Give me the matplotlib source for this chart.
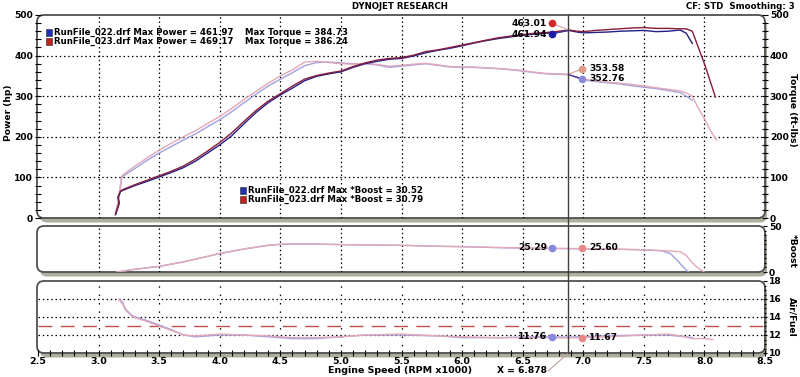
import numpy as np
import matplotlib
matplotlib.use("Agg")
import matplotlib.pyplot as plt
from matplotlib.patches import FancyBboxPatch, Rectangle
from matplotlib.lines import Line2D
from matplotlib.transforms import blended_transform_factory
from matplotlib.ticker import MultipleLocator

# ---- data ----
pwr_rpm_022 = [3.14, 3.17, 3.16, 3.18, 3.20, 3.30, 3.40, 3.50, 3.60, 3.70, 3.80, 3.90, 4.00,
               4.10, 4.20, 4.30, 4.40, 4.50, 4.60, 4.70, 4.80, 4.90, 5.00, 5.10, 5.20, 5.30,
               5.40, 5.50, 5.60, 5.70, 5.80, 5.90, 6.00, 6.10, 6.20, 6.30, 6.40, 6.50, 6.60,
               6.70, 6.80, 6.88, 6.95, 7.00, 7.10, 7.20, 7.30, 7.40, 7.50, 7.60, 7.70, 7.80,
               7.85, 7.90]
pwr_022 = [8, 35, 50, 65, 68, 80, 90, 101, 112, 124, 140, 160, 180,
           203, 232, 260, 284, 303, 320, 338, 349, 355, 360, 371, 380, 386,
           391, 393, 399, 407, 413, 418, 424, 431, 437, 442, 446, 450, 453,
           455, 458, 462, 458, 456, 457, 458, 460, 461, 462, 459, 460, 463,
           455, 430]
pwr_rpm_023 = [3.14, 3.17, 3.16, 3.18, 3.20, 3.30, 3.40, 3.50, 3.60, 3.70, 3.80, 3.90, 4.00,
               4.10, 4.20, 4.30, 4.40, 4.50, 4.60, 4.70, 4.80, 4.90, 5.00, 5.10, 5.20, 5.30,
               5.40, 5.50, 5.60, 5.70, 5.80, 5.90, 6.00, 6.10, 6.20, 6.30, 6.40, 6.50, 6.60,
               6.70, 6.80, 6.88, 6.95, 7.00, 7.10, 7.20, 7.30, 7.40, 7.50, 7.60, 7.70, 7.80,
               7.85, 7.90, 7.95, 8.00, 8.05, 8.09]
pwr_023 = [10, 38, 52, 66, 70, 82, 93, 104, 115, 128, 145, 165, 186,
           210, 238, 265, 288, 306, 325, 342, 351, 357, 362, 373, 382, 389,
           393, 395, 401, 410, 414, 420, 426, 432, 438, 444, 448, 452, 455,
           457, 460, 463, 460, 459, 462, 464, 466, 468, 469, 467, 467, 466,
           466, 460, 420, 380, 335, 298]

trq_rpm_022 = [3.14, 3.17, 3.18, 3.19, 3.20, 3.30, 3.40, 3.50, 3.60, 3.70, 3.80, 3.90, 4.00,
               4.10, 4.20, 4.30, 4.40, 4.50, 4.60, 4.70, 4.80, 4.90, 5.00, 5.10, 5.20, 5.30,
               5.40, 5.50, 5.60, 5.70, 5.80, 5.90, 6.00, 6.10, 6.20, 6.30, 6.40, 6.50, 6.60,
               6.70, 6.80, 6.88, 6.95, 7.00, 7.10, 7.20, 7.30, 7.40, 7.50, 7.60, 7.70, 7.80,
               7.85, 7.90]
trq_022 = [10, 50, 75, 98, 103, 122, 142, 160, 176, 192, 207, 225, 242,
           262, 284, 305, 325, 342, 358, 375, 383, 384, 382, 380, 380, 377,
           371, 374, 377, 380, 376, 372, 371, 371, 369, 368, 365, 362, 358,
           355, 354, 353, 345, 340, 336, 333, 330, 326, 322, 319, 314, 309,
           300, 290]
trq_rpm_023 = [3.14, 3.17, 3.18, 3.19, 3.20, 3.30, 3.40, 3.50, 3.60, 3.70, 3.80, 3.90, 4.00,
               4.10, 4.20, 4.30, 4.40, 4.50, 4.60, 4.70, 4.80, 4.90, 5.00, 5.10, 5.20, 5.30,
               5.40, 5.50, 5.60, 5.70, 5.80, 5.90, 6.00, 6.10, 6.20, 6.30, 6.40, 6.50, 6.60,
               6.70, 6.80, 6.88, 6.95, 7.00, 7.10, 7.20, 7.30, 7.40, 7.50, 7.60, 7.70, 7.80,
               7.85, 7.90, 7.95, 8.00, 8.05, 8.10]
trq_023 = [12, 55, 80, 102, 106, 128, 148, 167, 184, 200, 215, 233, 250,
           270, 292, 312, 332, 350, 365, 384, 386, 383, 380, 379, 381, 378,
           374, 376, 379, 381, 377, 373, 372, 372, 370, 368, 366, 363, 359,
           356, 355, 354, 347, 342, 338, 335, 332, 329, 325, 321, 317, 313,
           308, 300, 270, 245, 215, 192]

boost_rpm_022 = [3.15, 3.30, 3.50, 3.70, 3.90, 4.00, 4.20, 4.40, 4.50, 4.70, 4.90, 5.20, 5.50,
                 5.80, 6.00, 6.30, 6.60, 6.88, 7.20, 7.50, 7.65, 7.72, 7.78, 7.85, 7.87]
boost_022 = [0, 3, 6, 11, 17, 20, 25, 29, 30, 30.5, 30, 29.3, 29,
             28, 27.5, 26.5, 25.8, 25.3, 25, 24, 23, 20, 12, 2, 0]
boost_rpm_023 = [3.15, 3.30, 3.50, 3.70, 3.90, 4.00, 4.20, 4.40, 4.50, 4.70, 4.90, 5.20, 5.50,
                 5.80, 6.00, 6.30, 6.60, 6.88, 7.20, 7.50, 7.70, 7.80, 7.85, 7.90, 7.95, 8.00]
boost_023 = [0, 3, 6.2, 11, 17, 20.3, 25, 29, 30.2, 30.8, 30, 29.4, 29,
             28, 27.6, 26.6, 26, 25.6, 25, 24.2, 23, 22, 18, 10, 4, 0]

afr_rpm_022 = [3.17, 3.20, 3.22, 3.28, 3.40, 3.50, 3.60, 3.70, 3.80, 3.90, 4.00, 4.20, 4.40,
               4.60, 4.80, 5.00, 5.20, 5.50, 5.80, 6.00, 6.30, 6.60, 6.88, 7.20, 7.50, 7.70,
               7.85, 7.90]
afr_022 = [16.0, 15.6, 14.9, 14.1, 13.6, 13.1, 12.6, 12.0, 11.8, 11.9, 12.0, 12.0, 11.8,
           11.6, 11.6, 11.8, 12.0, 12.0, 11.9, 11.7, 11.7, 11.8, 11.76, 11.9, 12.0, 12.0,
           11.8, 11.7]
afr_rpm_023 = [3.17, 3.20, 3.22, 3.28, 3.40, 3.50, 3.60, 3.70, 3.80, 3.90, 4.00, 4.20, 4.40,
               4.60, 4.80, 5.00, 5.20, 5.50, 5.80, 6.00, 6.30, 6.60, 6.88, 7.20, 7.50, 7.70,
               7.80, 7.90, 8.00, 8.07]
afr_023 = [15.9, 15.4, 14.8, 14.0, 13.5, 13.0, 12.5, 12.0, 11.9, 12.0, 12.1, 12.0, 11.9,
           11.7, 11.7, 11.8, 12.0, 12.1, 11.9, 11.8, 11.7, 11.7, 11.67, 11.8, 12.0, 12.1,
           11.9, 11.6, 11.6, 11.5]

cursor_rpm = 6.878
afr_target = 13
legend_top = [("RunFile_022.drf Max Power = 461.97", "Max Torque = 384.73"),
              ("RunFile_023.drf Max Power = 469.17", "Max Torque = 386.24")]
legend_boost = ["RunFile_022.drf Max *Boost = 30.52",
                "RunFile_023.drf Max *Boost = 30.79"]

C_PWR_B, C_PWR_R = "#24208a", "#861c3a"
C_LT_B, C_LT_R = "#a0a0e0", "#e4a8b8"
GRID = dict(color="black", linestyle=(0, (1.2, 2.2)), linewidth=0.9)
FS = 6.2

fig = plt.figure(figsize=(8, 3.77), dpi=100)
W, H = 800, 377


def px_axes(x0, y0, x1, y1):
    return fig.add_axes([x0 / W, 1 - y1 / H, (x1 - x0) / W, (y1 - y0) / H])


ax1 = px_axes(38, 15, 765, 218)
ax2 = px_axes(38, 226, 765, 272)
ax3 = px_axes(38, 281, 765, 353)


def frame(ax):
    # rounded panel outline with the grey drop shadow
    p = ax.get_position()
    x0, y0, w, h = p.x0 * 8, p.y0 * 3.77, p.width * 8, p.height * 3.77
    sh = FancyBboxPatch((x0 + 0.02, y0 - 0.045), w, h, boxstyle="round,pad=0,rounding_size=0.07",
                        transform=fig.dpi_scale_trans, facecolor="#aeae9e", edgecolor="none", zorder=-3)
    fr = FancyBboxPatch((x0 - 0.01, y0), w + 0.01, h, boxstyle="round,pad=0,rounding_size=0.07",
                        transform=fig.dpi_scale_trans, facecolor="white", edgecolor="#505050",
                        linewidth=1.3, zorder=-2)
    fig.patches.extend([sh, fr])
    ax.patch.set_visible(False)
    for s in ax.spines.values():
        s.set_visible(False)


for ax in (ax1, ax2, ax3):
    frame(ax)
    ax.set_xlim(2.5, 8.5)
for xv in np.arange(3.0, 8.01, 0.5):
    ax1.axvline(xv, **GRID, zorder=0)
    ax2.axvline(xv, **GRID, zorder=0)
    ax3.axvline(xv, color="black", linestyle=(1, (1.2, 5.5)), linewidth=0.9, zorder=0)

# power / torque
ax1.set_ylim(0, 500)
for yv in (100, 200, 300, 400):
    ax1.axhline(yv, **GRID, zorder=0)
ax1.plot(trq_rpm_022, trq_022, color=C_LT_B, lw=1.0)
ax1.plot(trq_rpm_023, trq_023, color=C_LT_R, lw=1.0)
ax1.plot(pwr_rpm_022, pwr_022, color=C_PWR_B, lw=1.0)
ax1.plot(pwr_rpm_023, pwr_023, color=C_PWR_R, lw=1.0)

# cursor call-outs
ax1.plot([6.74, cursor_rpm], [480, 463], color="#d0a0b0", lw=0.8)
ax1.plot([6.74, cursor_rpm], [453, 462], color="#4040a0", lw=0.8)
ax1.plot([6.99, cursor_rpm], [367, 354], color="#e0a090", lw=0.8)
ax1.plot([6.99, cursor_rpm], [343, 353], color="#3030a0", lw=0.8)
ax1.plot(6.74, 480, "o", color="#d42828", ms=4.5)
ax1.plot(6.74, 453, "o", color="#1c1ca8", ms=4.5)
ax1.plot(6.99, 367, "o", color="#e09a88", ms=4.5)
ax1.plot(6.99, 343, "o", color="#8a8ad8", ms=4.5)
ax1.text(6.70, 480, "463.01", ha="right", va="center", fontsize=FS + 0.4, fontweight="bold")
ax1.text(6.70, 453, "461.94", ha="right", va="center", fontsize=FS + 0.4, fontweight="bold")
ax1.text(7.05, 367, "353.58", ha="left", va="center", fontsize=FS + 0.4, fontweight="bold")
ax1.text(7.05, 343, "352.76", ha="left", va="center", fontsize=FS + 0.4, fontweight="bold")

for i, (a, b) in enumerate(legend_top):
    yy = 0.915 - i * 0.045
    ax1.add_patch(Rectangle((0.011, yy - 0.017), 0.008, 0.034, transform=ax1.transAxes,
                            facecolor=["#2030b0", "#c02020"][i], edgecolor="#404040", lw=0.5))
    ax1.text(0.022, yy, a, transform=ax1.transAxes, va="center", fontsize=FS, fontweight="bold")
    ax1.text(0.285, yy, b, transform=ax1.transAxes, va="center", fontsize=FS, fontweight="bold")
for i, s in enumerate(legend_boost):
    yy = 0.135 - i * 0.045
    ax1.add_patch(Rectangle((0.278, yy - 0.017), 0.008, 0.034, transform=ax1.transAxes,
                            facecolor=["#2030b0", "#c02020"][i], edgecolor="#404040", lw=0.5))
    ax1.text(0.289, yy, s, transform=ax1.transAxes, va="center", fontsize=FS, fontweight="bold")

ax1.yaxis.set_major_locator(MultipleLocator(100))
ax1.yaxis.set_minor_locator(MultipleLocator(20))
ax1.tick_params(axis="y", which="both", left=True, right=True, labelleft=True, labelright=True,
                direction="inout", labelsize=FS + 0.4, width=0.8, pad=1)
ax1.tick_params(axis="y", which="major", length=5)
ax1.tick_params(axis="y", which="minor", length=4)
ax1.tick_params(axis="x", bottom=False, labelbottom=False)
fig.text(0.011, 0.7, "Power (hp)", rotation=90, ha="center", va="center",
         fontsize=FS + 0.4, fontweight="bold")

# boost
ax2.set_ylim(0, 50)
ax2.plot(boost_rpm_022, boost_022, color=C_LT_B, lw=1.0)
ax2.plot(boost_rpm_023, boost_023, color=C_LT_R, lw=1.0)
ax2.plot(6.74, 26.1, "o", color="#8888e0", ms=4.5)
ax2.plot(6.99, 26.1, "o", color="#e88888", ms=4.5)
ax2.text(6.70, 26.1, "25.29", ha="right", va="center", fontsize=FS + 0.4, fontweight="bold")
ax2.text(7.05, 26.1, "25.60", ha="left", va="center", fontsize=FS + 0.4, fontweight="bold")
ax2.set_yticks([0, 50])
ax2.yaxis.set_minor_locator(MultipleLocator(5))
ax2.tick_params(axis="y", which="both", left=False, right=True, labelleft=False, labelright=True,
                direction="inout", labelsize=FS + 0.4, width=0.8, pad=1)
ax2.tick_params(axis="x", bottom=False, labelbottom=False)

# air / fuel
ax3.set_ylim(10, 18)
for yv in (12, 14, 16):
    ax3.axhline(yv, **GRID, zorder=0)
ax3.axhline(afr_target, color="#c05050", linestyle=(0, (10, 6)), linewidth=1.0, zorder=1)
ax3.plot(afr_rpm_022, afr_022, color=C_LT_B, lw=1.0)
ax3.plot(afr_rpm_023, afr_023, color=C_LT_R, lw=1.0)
ax3.plot(6.74, 11.78, "o", color="#8888e0", ms=4.5)
ax3.plot(6.99, 11.67, "o", color="#e88888", ms=4.5)
ax3.text(6.70, 11.78, "11.76", ha="right", va="center", fontsize=FS + 0.4, fontweight="bold")
ax3.text(7.05, 11.67, "11.67", ha="left", va="center", fontsize=FS + 0.4, fontweight="bold")
ax3.yaxis.set_major_locator(MultipleLocator(2))
ax3.yaxis.set_minor_locator(MultipleLocator(0.5))
ax3.tick_params(axis="y", which="both", left=False, right=True, labelleft=False, labelright=True,
                direction="inout", labelsize=FS + 0.4, width=0.8, pad=1)
ax3.xaxis.set_major_locator(MultipleLocator(0.5))
ax3.xaxis.set_minor_locator(MultipleLocator(0.1))
ax3.tick_params(axis="x", which="both", direction="inout", labelsize=FS + 0.6, width=0.8, length=4, pad=1)
ax3.axhline(10, color="#505050", lw=1.0)
ax3.set_xticklabels([f"{v:.1f}" for v in ax3.get_xticks()], fontweight="bold")

for ax in (ax1, ax2, ax3):
    for lab in ax.get_yticklabels():
        lab.set_fontweight("bold")

# right side labels
fig.text(0.99, 0.71, "Torque (ft-lbs)", rotation=-90, ha="center", va="center",
         fontsize=FS + 0.4, fontweight="bold")
fig.text(0.99, 0.335, "*Boost", rotation=-90, ha="center", va="center",
         fontsize=FS + 0.4, fontweight="bold")
fig.text(0.99, 0.16, "Air/Fuel", rotation=-90, ha="center", va="center",
         fontsize=FS + 0.4, fontweight="bold")

fig.text(0.5, 0.982, "DYNOJET RESEARCH", ha="center", va="center", fontsize=FS, fontweight="bold")
fig.text(0.994, 0.982, "CF: STD  Smoothing: 3", ha="right", va="center", fontsize=FS, fontweight="bold")
fig.text(0.5, 2 / H, "Engine Speed (RPM x1000)", ha="center", va="bottom", fontsize=FS + 0.6,
         fontweight="bold")

# cursor line across all panels
bt = blended_transform_factory(ax1.transData, fig.transFigure)
fig.add_artist(Line2D([cursor_rpm, cursor_rpm], [1 - 15 / H, 1 - 353 / H], transform=bt,
                      color="#404040", lw=1.0, zorder=5))
fig.add_artist(Line2D([cursor_rpm, 6.71], [1 - 353 / H, 1 - 371 / H], transform=bt,
                      color="#c0a0a0", lw=0.8))
fig.text(547 / W, 2 / H, "X = 6.878", ha="right", va="bottom", fontsize=FS + 0.4, fontweight="bold")

fig.savefig("out.png", dpi=100)
